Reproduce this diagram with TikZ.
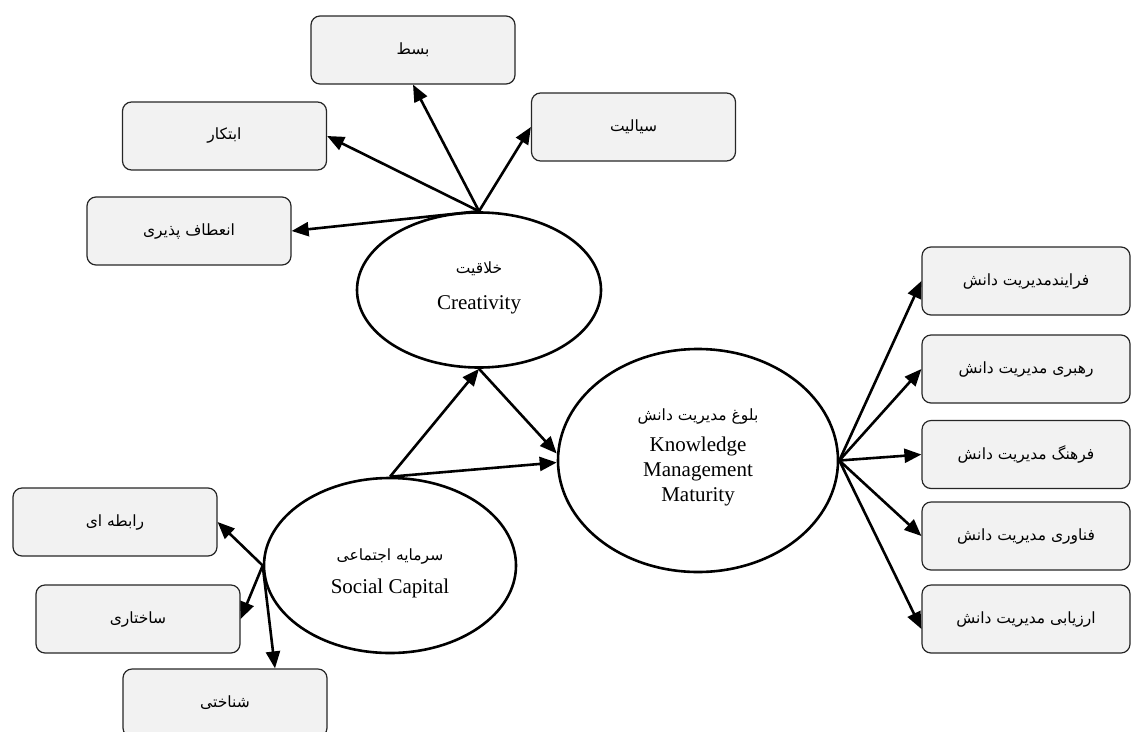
\documentclass[tikz,border=0pt]{standalone}
\usepackage{fontspec}
\setmainfont{Liberation Serif}
\newfontfamily\arabicfont[Script=Arabic]{DejaVu Sans}
\TeXXeTstate=1
\usetikzlibrary{shapes.geometric,arrows.meta}
\newcommand{\fa}[1]{{\arabicfont\beginR #1\endR}}
\newcommand{\fas}[1]{{\fontsize{15.5}{18}\selectfont\arabicfont\beginR #1\endR}}
\tikzset{
  ind/.style={draw=black!85, fill=black!5, rounded corners=9pt, line width=1.2pt, minimum width=204pt, minimum height=68pt, inner sep=0pt, font=\fontsize{15.5}{18}\selectfont},
  lat/.style={draw, ellipse, line width=2.6pt, inner sep=0pt, align=center, font=\fontsize{21}{25}\selectfont},
  fl/.style={-{Triangle[length=17pt,width=14pt]}, line width=2.6pt},
}
\begin{document}
\begin{tikzpicture}[x=1pt, y=-1pt]
\useasboundingbox (0,0) rectangle (1131,731);
% latent variables
\node[lat, minimum width=244pt, minimum height=155pt] (cre) at (479,290) {\fas{خلاقیت}\\[11pt] Creativity\rule[-8pt]{0pt}{8pt}};
\node[lat, minimum width=252pt, minimum height=175pt] (soc) at (390,565.5) {\rule{0pt}{28pt}\fas{سرمایه اجتماعی}\\[8pt] Social Capital};
\node[lat, minimum width=280pt, minimum height=223pt] (kmm) at (698,460.5) {\fas{بلوغ مدیریت دانش}\\[6pt] Knowledge\\ Management\\ Maturity\rule[-10pt]{0pt}{10pt}};
% creativity indicators
\node[ind] (bast) at (413,50) {\fa{بسط}};
\node[ind] (siyal) at (633.5,127) {\fa{سیالیت}};
\node[ind] (ebtekar) at (224.5,136) {\fa{ابتکار}};
\node[ind] (enataf) at (189,231) {\fa{انعطاف پذیری}};
% social capital indicators
\node[ind] (rabete) at (115,522) {\fa{رابطه ای}};
\node[ind] (sakhtari) at (138,619) {\fa{ساختاری}};
\node[ind] (shenakhti) at (225,703) {\fa{شناختی}};
% knowledge management indicators
\node[ind, minimum width=208pt] (fr) at (1026,281) {\fa{فرایندمدیریت دانش}};
\node[ind, minimum width=208pt] (rah) at (1026,369) {\fa{رهبری مدیریت دانش}};
\node[ind, minimum width=208pt] (far) at (1026,454.5) {\fa{فرهنگ مدیریت دانش}};
\node[ind, minimum width=208pt] (fan) at (1026,536) {\fa{فناوری مدیریت دانش}};
\node[ind, minimum width=208pt] (arz) at (1026,619) {\fa{ارزیابی مدیریت دانش}};
% arrows
\draw[fl] (cre.north) -- (bast.south);
\draw[fl] (cre.north) -- (siyal.west);
\draw[fl] (cre.north) -- (ebtekar.east);
\draw[fl] (cre.north) -- (enataf.east);
\draw[fl] (soc.west) -- (rabete.east);
\draw[fl] (soc.west) -- (sakhtari.east);
\draw[fl] (soc.west) -- ([xshift=50pt]shenakhti.north);
\draw[fl] (soc.north) -- (cre.south);
\draw[fl] (cre.south) -- ([yshift=7pt]kmm.west);
\draw[fl] (soc.north) -- ([yshift=-2pt]kmm.west);
\foreach \n in {fr,rah,far,fan}
  \draw[fl] (kmm.east) -- (\n.west);
\draw[fl] (kmm.east) -- ([yshift=-10pt]arz.west);
\end{tikzpicture}
\end{document}
